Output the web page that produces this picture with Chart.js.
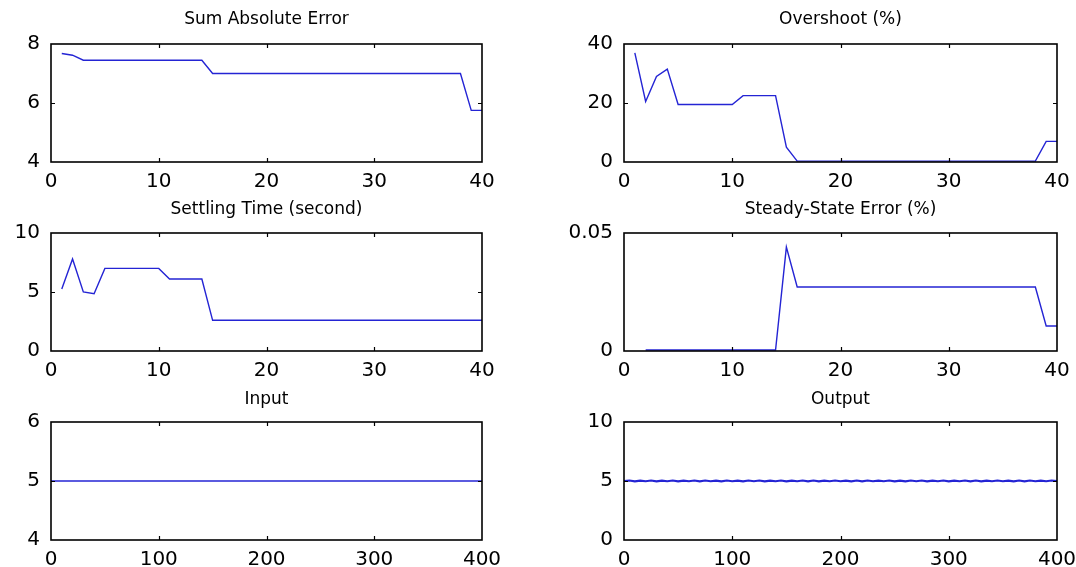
<!DOCTYPE html>
<html>
<head>
<meta charset="utf-8">
<script src="https://cdn.jsdelivr.net/npm/chart.js@4.4.1/dist/chart.umd.min.js"></script>
<style>
html,body{margin:0;padding:0;background:#fff;width:1076px;height:567px;overflow:hidden}
canvas{position:absolute;display:block}
</style>
</head>
<body>
<canvas id="k1" width="540" height="190" style="left:0px;top:0px"></canvas>
<canvas id="k2" width="536" height="190" style="left:540px;top:0px"></canvas>
<canvas id="k3" width="540" height="190" style="left:0px;top:190px"></canvas>
<canvas id="k4" width="536" height="190" style="left:540px;top:190px"></canvas>
<canvas id="k5" width="540" height="188" style="left:0px;top:379px"></canvas>
<canvas id="k6" width="536" height="188" style="left:540px;top:379px"></canvas>
<script>
// ---------- data ----------
const iterX = [1,2,3,4,5,6,7,8,9,10,11,12,13,14,15,16,17,18,19,20,21,22,23,24,25,26,27,28,29,30,31,32,33,34,35,36,37,38,39,40];
const sumAbsError = [7.68,7.62,7.45,7.45,7.45,7.45,7.45,7.45,7.45,7.45,7.45,7.45,7.45,7.45,7.0,7.0,7.0,7.0,7.0,7.0,7.0,7.0,7.0,7.0,7.0,7.0,7.0,7.0,7.0,7.0,7.0,7.0,7.0,7.0,7.0,7.0,7.0,7.0,5.75,5.75];
const overshoot = [37,20.5,29,31.5,19.5,19.5,19.5,19.5,19.5,19.5,22.5,22.5,22.5,22.5,5,0.3,0.3,0.3,0.3,0.3,0.3,0.3,0.3,0.3,0.3,0.3,0.3,0.3,0.3,0.3,0.3,0.3,0.3,0.3,0.3,0.3,0.3,0.3,7,7];
const settlingTime = [5.25,7.8,5.0,4.85,7.0,7.0,7.0,7.0,7.0,7.0,6.1,6.1,6.1,6.1,2.6,2.6,2.6,2.6,2.6,2.6,2.6,2.6,2.6,2.6,2.6,2.6,2.6,2.6,2.6,2.6,2.6,2.6,2.6,2.6,2.6,2.6,2.6,2.6,2.6,2.6];
const steadyStateError = [null,0.0004,0.0004,0.0004,0.0004,0.0004,0.0004,0.0004,0.0004,0.0004,0.0004,0.0004,0.0004,0.0004,0.044,0.0271,0.0271,0.0271,0.0271,0.0271,0.0271,0.0271,0.0271,0.0271,0.0271,0.0271,0.0271,0.0271,0.0271,0.0271,0.0271,0.0271,0.0271,0.0271,0.0271,0.0271,0.0271,0.0271,0.0106,0.0106];
const inputX = [0,100,200,300,400];
const inputY = [5,5,5,5,5];
const outputX = [0,5,10,15,20,25,30,35,40,45,50,55,60,65,70,75,80,85,90,95,100,105,110,115,120,125,130,135,140,145,150,155,160,165,170,175,180,185,190,195,200,205,210,215,220,225,230,235,240,245,250,255,260,265,270,275,280,285,290,295,300,305,310,315,320,325,330,335,340,345,350,355,360,365,370,375,380,385,390,395,400];
const outputY = [5.00,5.04,4.97,5.03,4.98,5.04,4.97,5.03,4.98,5.04,
                 4.97,5.03,4.98,5.04,4.97,5.04,4.98,5.03,4.97,5.04,
                 4.98,5.03,4.97,5.04,4.98,5.04,4.97,5.03,4.98,5.04,
                 4.97,5.03,4.98,5.04,4.97,5.04,4.97,5.03,4.98,5.04,
                 4.98,5.03,4.97,5.04,4.97,5.04,4.98,5.03,4.98,5.04,
                 4.97,5.03,4.97,5.04,4.98,5.04,4.97,5.03,4.98,5.04,
                 4.97,5.03,4.98,5.04,4.97,5.04,4.97,5.03,4.98,5.04,
                 4.98,5.03,4.97,5.04,4.97,5.04,4.98,5.03,4.98,5.04,
                 5.00];

// tick labels
const iterTicks = [0,10,20,30,40];
const sampleTicks = [0,100,200,300,400];
const saeTicks = [4,6,8];
const overshootTicks = [0,20,40];
const settlingTicks = [0,5,10];
const sseTicks = [0,0.05];
const inputTicks = [4,5,6];
const outputTicks = [0,5,10];

// titles
const titles = ['Sum Absolute Error','Overshoot (%)','Settling Time (second)','Steady-State Error (%)','Input','Output'];

// ---------- rendering ----------
const LINE = '#2424d4';
const FONT = 'DejaVu Sans';

const framePlugin = {
  id: 'matlabFrame',
  afterDatasetsDraw(chart) {
    const {ctx, chartArea: a, scales} = chart;
    ctx.save();
    ctx.strokeStyle = '#000';
    ctx.lineWidth = 1.6;
    ctx.strokeRect(a.left, a.top, a.right - a.left, a.bottom - a.top);
    const L = 4;
    ctx.beginPath();
    scales.x.ticks.forEach(t => {
      if (t.value <= scales.x.min || t.value >= scales.x.max) return;
      const px = Math.round(scales.x.getPixelForValue(t.value)) + 0.5;
      ctx.moveTo(px, a.bottom); ctx.lineTo(px, a.bottom - L);
      ctx.moveTo(px, a.top); ctx.lineTo(px, a.top + L);
    });
    scales.y.ticks.forEach(t => {
      if (t.value <= scales.y.min || t.value >= scales.y.max) return;
      const py = Math.round(scales.y.getPixelForValue(t.value)) + 0.5;
      ctx.moveTo(a.left, py); ctx.lineTo(a.left + L, py);
      ctx.moveTo(a.right, py); ctx.lineTo(a.right - L, py);
    });
    ctx.lineWidth = 1.2;
    ctx.stroke();
    ctx.restore();
  }
};

function makeChart(id, o) {
  const pts = o.xs.map((x, i) => ({x: x, y: o.ys[i]}));
  return new Chart(document.getElementById(id), {
    type: 'line',
    data: { datasets: [{ data: pts, borderColor: LINE, borderWidth: o.lw || 1.4, pointRadius: 0, tension: 0, fill: false, spanGaps: false }] },
    plugins: [framePlugin],
    options: {
      responsive: false,
      animation: false,
      events: [],
      layout: { padding: { left: 0, right: o.padRight, top: 0, bottom: 0 } },
      plugins: {
        legend: { display: false },
        tooltip: { enabled: false },
        title: {
          display: true, text: o.title, fullSize: false, color: '#000',
          font: { family: FONT, size: 17, weight: 'normal', lineHeight: 1.2 },
          padding: { top: o.tTop, bottom: o.tBottom }
        }
      },
      scales: {
        x: {
          type: 'linear', position: 'bottom', min: o.xMin, max: o.xMax,
          afterBuildTicks: s => { s.ticks = o.xTicks.map(v => ({value: v})); },
          ticks: { autoSkip: false, maxRotation: 0, color: '#000', padding: 8,
                   font: { family: FONT, size: 20 }, callback: v => String(v) },
          grid: { display: false, drawTicks: false },
          border: { display: false },
          afterFit: s => { s.height = o.xH; s.paddingLeft = 0; s.paddingRight = 0; }
        },
        y: {
          type: 'linear', position: 'left', min: o.yMin, max: o.yMax,
          afterBuildTicks: s => { s.ticks = o.yTicks.map(v => ({value: v})); },
          ticks: { autoSkip: false, color: '#000', padding: 11,
                   font: { family: FONT, size: 20 }, callback: v => String(v) },
          grid: { display: false, drawTicks: false },
          border: { display: false },
          afterFit: s => { s.width = o.yW; s.paddingTop = 0; s.paddingBottom = 0; }
        }
      }
    }
  });
}

const leftCol = { yW: 51, padRight: 58 };
const rightCol = { yW: 84, padRight: 19 };

makeChart('k1', Object.assign({}, leftCol, { title: titles[0], xs: iterX, ys: sumAbsError, xMin: 0, xMax: 40, xTicks: iterTicks, yMin: 4, yMax: 8, yTicks: saeTicks, xH: 28, tTop: 9, tBottom: 14.6 }));
makeChart('k2', Object.assign({}, rightCol, { title: titles[1], xs: iterX, ys: overshoot, xMin: 0, xMax: 40, xTicks: iterTicks, yMin: 0, yMax: 40, yTicks: overshootTicks, xH: 28, tTop: 9, tBottom: 14.6 }));
makeChart('k3', Object.assign({}, leftCol, { title: titles[2], xs: iterX, ys: settlingTime, xMin: 0, xMax: 40, xTicks: iterTicks, yMin: 0, yMax: 10, yTicks: settlingTicks, xH: 29, tTop: 9, tBottom: 13.6 }));
makeChart('k4', Object.assign({}, rightCol, { title: titles[3], xs: iterX, ys: steadyStateError, xMin: 0, xMax: 40, xTicks: iterTicks, yMin: 0, yMax: 0.05, yTicks: sseTicks, xH: 29, tTop: 9, tBottom: 13.6 }));
makeChart('k5', Object.assign({}, leftCol, { title: titles[4], xs: inputX, ys: inputY, xMin: 0, xMax: 400, xTicks: sampleTicks, yMin: 4, yMax: 6, yTicks: inputTicks, xH: 27, tTop: 10, tBottom: 12.6 }));
makeChart('k6', Object.assign({}, rightCol, { title: titles[5], xs: outputX, ys: outputY, xMin: 0, xMax: 400, xTicks: sampleTicks, yMin: 0, yMax: 10, yTicks: outputTicks, xH: 27, tTop: 10, tBottom: 12.6, lw: 2.2 }));
</script>
</body>
</html>
